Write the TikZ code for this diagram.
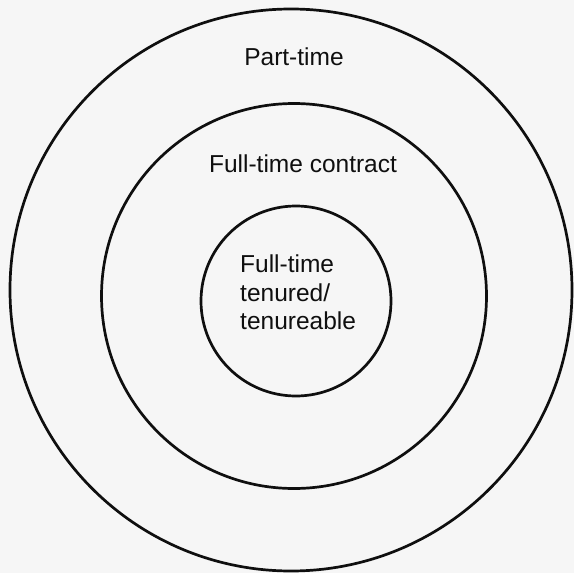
\documentclass[tikz,border=0pt]{standalone}
\usepackage{fontspec}
\setmainfont{Liberation Sans}
\usetikzlibrary{positioning}
\definecolor{paper}{RGB}{246,246,246}
\definecolor{ink}{RGB}{15,15,15}

\begin{document}
\begin{tikzpicture}[x=1pt, y=1pt,
      ring/.style={draw=ink, circle, line width=2.7pt, inner sep=0pt},
      lbl/.style={font=\fontsize{24.5}{28.5}\selectfont, text=ink, inner sep=0pt}]

    \def\W{574} % picture width
    \def\H{573} % picture height

    % === background ===
    \fill[paper] (0,0) rectangle (\W,-\H);
    \useasboundingbox (0,0) rectangle (\W,-\H);

    % === rings ===
    \node[ring, minimum size=562pt] (outer)  at (291,-290) {};
    \node[ring, minimum size=385pt] (middle) at (294,-296) {};
    \node[ring, minimum size=190pt] (inner)  at (296,-301) {};

    % === labels ===
    \node[lbl, anchor=base] (parttime) at (294,-65) {Part-time};
    \node[lbl, anchor=base] (contract) at (303,-172) {Full-time contract};
    \node[lbl, anchor=north west, align=left] (tenured) at (240,-255)
        {Full-time\\tenured/\\tenureable};

\end{tikzpicture}
\end{document}
